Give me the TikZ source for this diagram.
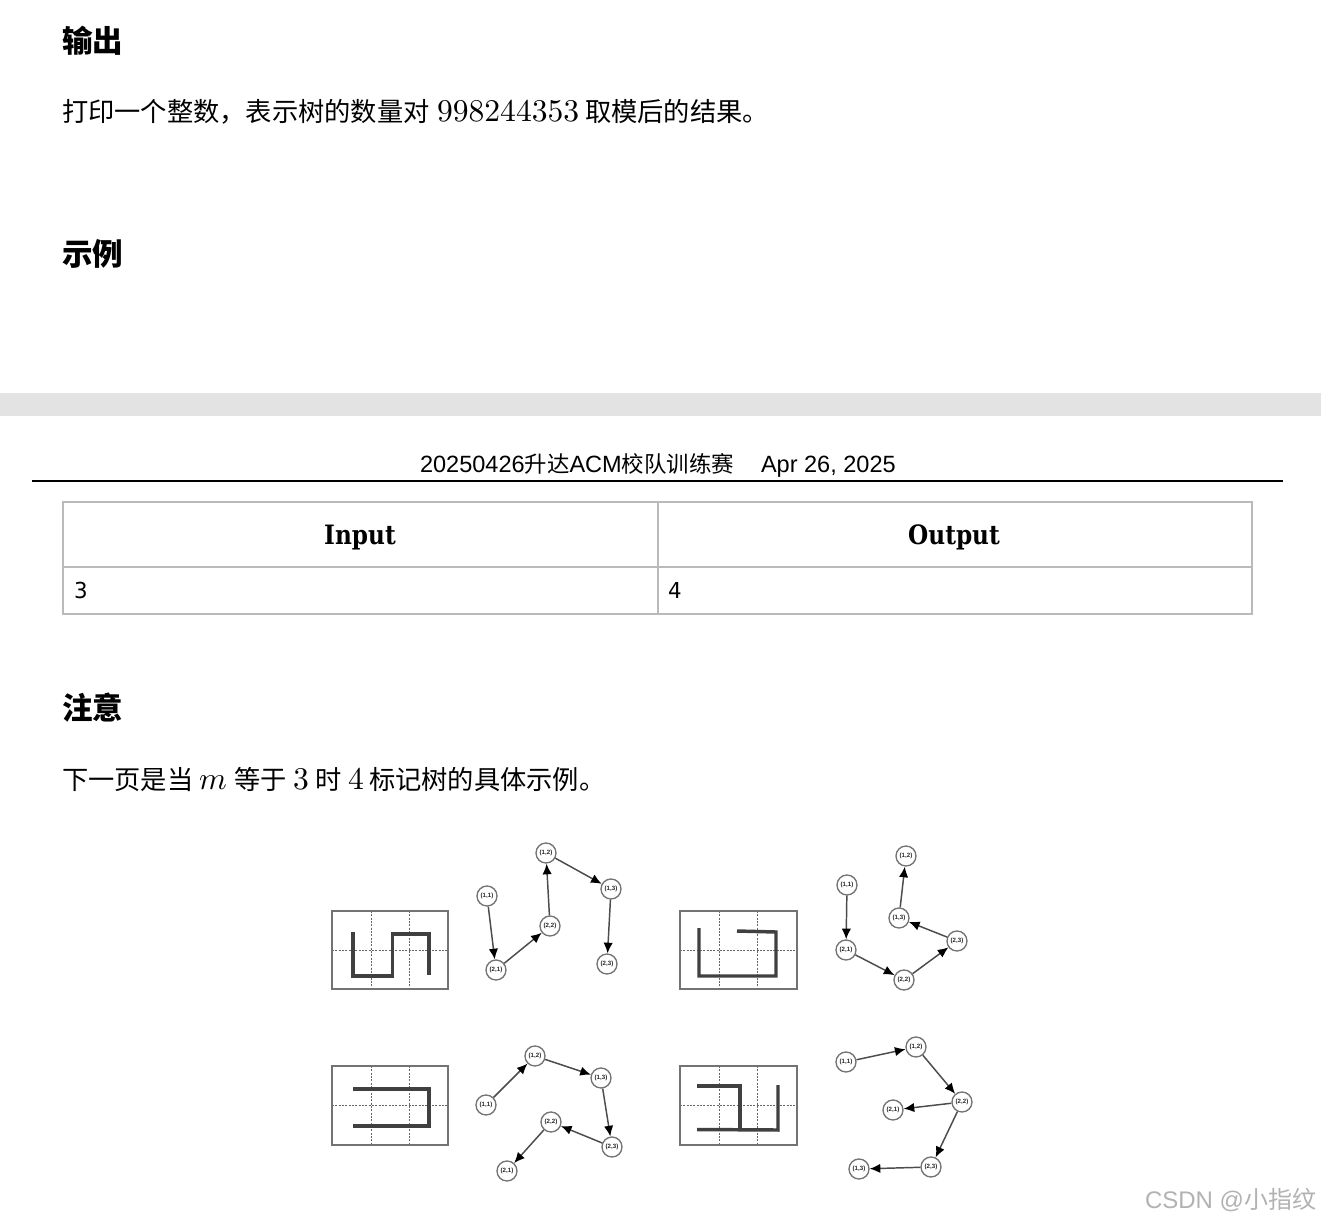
\documentclass[tikz,border=0pt]{standalone}
\usepackage{fontspec}
\setmainfont{Liberation Sans}
\newfontfamily\cjk{Noto Sans CJK SC}
\newfontfamily\lm{lmroman10-regular}[Extension=.otf]
\newfontfamily\tbl{DejaVu Serif}[FakeStretch=0.87]
\newfontfamily\tnum{DejaVu Sans}[FakeStretch=0.97]
\usetikzlibrary{arrows.meta}
\tikzset{
  txt/.style={anchor=base west,inner sep=0pt,outer sep=0pt},
  head/.style={txt,font=\cjk\bfseries\fontsize{22.9}{24}\selectfont,text=black},
  body/.style={txt,font=\cjk\fontsize{19.7}{22}\selectfont,text=black},
  mathd/.style={txt,font=\lm\fontsize{23.7}{24}\selectfont,text=black},
  th/.style={anchor=base,inner sep=0pt,font=\tbl\bfseries\fontsize{20}{22}\selectfont,text=black},
  td/.style={txt,font=\tnum\fontsize{16.5}{18}\selectfont,text=black},
  hdr/.style={txt,font=\fontsize{17.65}{20}\selectfont,text=black},
  tree/.style={circle,draw=black!55,line width=1pt,minimum size=15pt,inner sep=0pt,fill=white,font=\bfseries\fontsize{4.6}{5}\selectfont,text=black!85},
  edge/.style={draw=black!70,line width=1.1pt,-{Latex[length=8pt,width=7pt,color=black]}},
  frame/.style={draw=black!55,line width=1pt},
  gridl/.style={draw=black!60,line width=.6pt,dash pattern=on 1.5pt off 1pt},
  snake/.style={draw=black!75,line width=2.6pt,line join=miter},
  cell/.style={draw=black!27,line width=1.4pt}
}
\begin{document}
\begin{tikzpicture}[x=.75pt,y=-.75pt]
\useasboundingbox (0,0) rectangle (1321,1221);
\fill[white] (0,0) rectangle (1321,1221);
% first page
\node[head] (h1) at (62,52) {输出};
\node[body] (t1) at (62,121) {打印一个整数，表示树的数量对};
\node[mathd] (n1) at (437,121) {998244353};
\node[body] (t2) at (585,121) {取模后的结果。};
\node[head] (h2) at (62,265) {示例};
% page gap
\fill[black!11] (0,393) rectangle (1321,416);
% page header
\node[hdr] (hd) at (420,472) {20250426{\cjk\fontsize{16.8}{20}\selectfont 升达}ACM{\cjk\fontsize{16.8}{20}\selectfont 校队训练赛}};
\node[hdr] (hdb) at (761,472) {Apr 26, 2025};
\fill[black] (32,480) rectangle (1283,482);
% table
\draw[cell] (63,502) rectangle (1252,614);
\draw[cell] (63,567) -- (1252,567);
\draw[cell] (658,502) -- (658,614);
\node[th] (i) at (360,544) {Input};
\node[th] (o) at (954,544) {Output};
\node[td] (v3) at (74,598) {3};
\node[td] (v4) at (668,598) {4};
% note
\node[head] (h3) at (62,719) {注意};
\node[body] (t3) at (62,789) {下一页是当};
\node[txt,text=black,scale=2.37] (m) at (199,789) {$m$};
\node[body] (t4) at (234,789) {等于};
\node[mathd] (n3) at (293,789) {3};
\node[body] (t5) at (315,789) {时};
\node[mathd] (n4) at (348,789) {4};
\node[body] (t6) at (369,789) {标记树的具体示例。};
% grids
\draw[gridl] (371,911) -- (371,989) (409.5,911) -- (409.5,989) (332,950) -- (448,950);
\draw[frame] (332,911) rectangle (448,989);
\draw[snake] (353,932) -- (353,976) -- (392.5,976) -- (392.5,934) -- (429,934) -- (429,975);
\draw[gridl] (719,911) -- (719,989) (757.5,911) -- (757.5,989) (680,950) -- (797,950);
\draw[frame] (680,911) rectangle (797,989);
\draw[snake] (699,928) -- (699,976) -- (776,976) -- (776,932) -- (737,931);
\draw[gridl] (371,1066) -- (371,1145) (409.5,1066) -- (409.5,1145) (332,1105) -- (448,1105);
\draw[frame] (332,1066) rectangle (448,1145);
\draw[snake] (353,1089) -- (429,1089) -- (429,1126) -- (353,1126);
\draw[gridl] (719,1066) -- (719,1145) (757.5,1066) -- (757.5,1145) (680,1105) -- (797,1105);
\draw[frame] (680,1066) rectangle (797,1145);
\draw[snake] (697,1086) -- (740,1086) -- (740,1129.5);
\draw[snake] (697,1129.5) -- (778,1130) -- (778,1085);
% tree 1
\node[tree] (a11) at (487,896) {(1,1)};
\node[tree] (a21) at (496,970) {(2,1)};
\node[tree] (a22) at (550,926) {(2,2)};
\node[tree] (a12) at (546,853) {(1,2)};
\node[tree] (a13) at (611,889) {(1,3)};
\node[tree] (a23) at (607,964) {(2,3)};
\draw[edge] (a11) -- (a21);
\draw[edge] (a21) -- (a22);
\draw[edge] (a22) -- (a12);
\draw[edge] (a12) -- (a13);
\draw[edge] (a13) -- (a23);
% tree 2
\node[tree] (b11) at (847,885) {(1,1)};
\node[tree] (b21) at (846,950) {(2,1)};
\node[tree] (b22) at (904,980) {(2,2)};
\node[tree] (b23) at (957,941) {(2,3)};
\node[tree] (b13) at (899,918) {(1,3)};
\node[tree] (b12) at (906,856) {(1,2)};
\draw[edge] (b11) -- (b21);
\draw[edge] (b21) -- (b22);
\draw[edge] (b22) -- (b23);
\draw[edge] (b23) -- (b13);
\draw[edge] (b13) -- (b12);
% tree 3
\node[tree] (c11) at (486,1105) {(1,1)};
\node[tree] (c12) at (535,1056) {(1,2)};
\node[tree] (c13) at (601,1078) {(1,3)};
\node[tree] (c23) at (612,1147) {(2,3)};
\node[tree] (c22) at (551,1122) {(2,2)};
\node[tree] (c21) at (507,1171) {(2,1)};
\draw[edge] (c11) -- (c12);
\draw[edge] (c12) -- (c13);
\draw[edge] (c13) -- (c23);
\draw[edge] (c23) -- (c22);
\draw[edge] (c22) -- (c21);
% tree 4
\node[tree] (d11) at (846,1062) {(1,1)};
\node[tree] (d12) at (916,1047) {(1,2)};
\node[tree] (d22) at (962,1102) {(2,2)};
\node[tree] (d21) at (893,1110) {(2,1)};
\node[tree] (d23) at (931,1167) {(2,3)};
\node[tree] (d13) at (859,1169) {(1,3)};
\draw[edge] (d11) -- (d12);
\draw[edge] (d12) -- (d22);
\draw[edge] (d22) -- (d21);
\draw[edge] (d22) -- (d23);
\draw[edge] (d23) -- (d13);
% watermark
\node[txt,font=\fontsize{18}{20}\selectfont,text=black!30] (wm) at (1145,1208) {CSDN @{\cjk 小指纹}};
\end{tikzpicture}
\end{document}
